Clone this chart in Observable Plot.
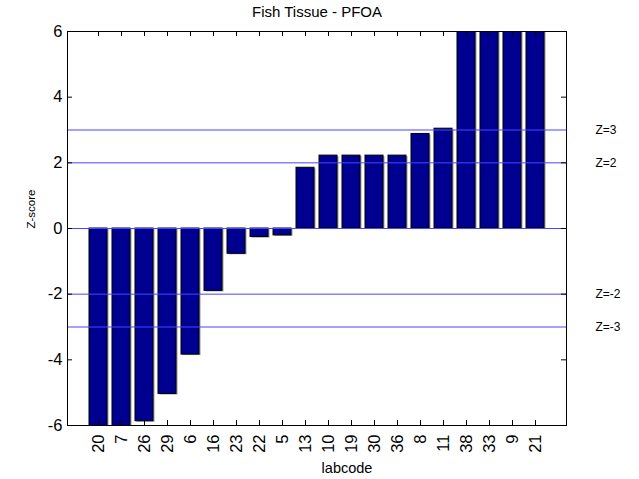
<!DOCTYPE html>
<html>
<head>
<meta charset="utf-8">
<script src="https://cdn.jsdelivr.net/npm/d3@7"></script>
<script src="https://cdn.jsdelivr.net/npm/@observablehq/plot@0.6"></script>
<style>
  html, body { margin: 0; padding: 0; background: #fff; }
  svg { display: block; }
</style>
</head>
<body>
<div id="chart"></div>
<script>
const title = "Fish Tissue - PFOA";
const xLabel = "labcode";
const yLabel = "Z-score";
const labcodes = ["20","7","26","29","6","16","23","22","5","13","10","19","30","36","8","11","38","33","9","21"];
const zscores = [-6.4,-6.2,-5.87,-5.04,-3.84,-1.90,-0.77,-0.26,-0.21,1.85,2.22,2.22,2.22,2.22,2.88,3.04,6.9,7.5,8.2,9.6];
const yTicks = [-6,-4,-2,0,2,4,6];
const refValues = [3, 2, 0, -2, -3];
const refLabels = ["Z=3", "Z=2", "", "Z=-2", "Z=-3"];

const data = labcodes.map((c, i) => ({code: c, z: zscores[i]}));
const refs = refValues.map((v, i) => ({v, label: refLabels[i]}));

const W = 639, H = 479;
const mL = 67, mR = 73, mT = 31, mB = 54;
const fw = W - mL - mR, fh = H - mT - mB;
const font = "Liberation Sans, Arial, Helvetica, sans-serif";

const chart = Plot.plot({
  width: W,
  height: H,
  marginLeft: mL,
  marginRight: mR,
  marginTop: mT,
  marginBottom: mB,
  style: {fontFamily: font, color: "black", background: "white"},
  x: {type: "band", domain: labcodes, paddingInner: 0.2, paddingOuter: 0.6, axis: null},
  y: {domain: [-6, 6], axis: null},
  marks: [
    Plot.barY(data, {x: "code", y1: 0, y2: "z", fill: "#9a9a9a", dx: 1.5, dy: 1, clip: true}),
    Plot.barY(data, {x: "code", y1: 0, y2: "z", fill: "#000090", stroke: "black", strokeWidth: 1, clip: true}),
    Plot.ruleY(refs, {y: "v", stroke: "#4646ff", strokeWidth: 1}),
    Plot.frame({stroke: "black", strokeWidth: 1}),
    // inward ticks
    Plot.tickY(yTicks, {y: d => d, insetRight: fw - 5, stroke: "black"}),
    Plot.tickY(yTicks, {y: d => d, insetLeft: fw - 5, stroke: "black"}),
    Plot.tickX(labcodes, {x: d => d, insetTop: fh - 5, stroke: "black"}),
    Plot.tickX(labcodes, {x: d => d, insetBottom: fh - 5, stroke: "black"}),
    Plot.axisY({ticks: yTicks, tickSize: 0, tickPadding: 5, fontSize: 16.5, tickFormat: d => String(d), label: null}),
    Plot.axisX({tickSize: 0, tickRotate: -90, tickPadding: 9, fontSize: 16.5, label: null}),
    Plot.text(refs.filter(d => d.label), {y: "v", text: "label", frameAnchor: "right", dx: 29, textAnchor: "start", fontSize: 12}),
    Plot.text([title], {frameAnchor: "top", lineAnchor: "middle", dy: -19, fontSize: 15}),
    Plot.text([xLabel], {frameAnchor: "bottom", lineAnchor: "middle", dy: 43, dx: 30, fontSize: 14.5}),
    Plot.text([yLabel], {frameAnchor: "left", lineAnchor: "middle", dx: -36, rotate: -90, fontSize: 11.5})
  ]
});
document.getElementById("chart").appendChild(chart);
</script>
</body>
</html>
